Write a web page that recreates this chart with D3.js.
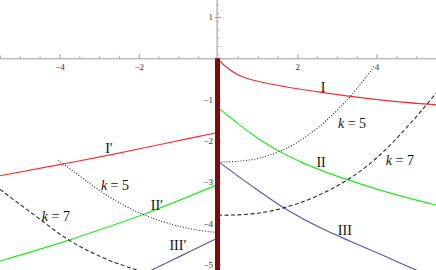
<!DOCTYPE html>
<html><head><meta charset="utf-8">
<script src="https://cdn.jsdelivr.net/npm/d3@7"></script>
<style>
html,body{margin:0;padding:0;background:#fff;}
svg{display:block;}
text{font-family:"Liberation Serif","Times New Roman",serif;}
</style></head>
<body>
<script>
// ---------- data ----------
const xTickLabels = [-4, -2, 2, 4];
const yTickLabels = [-5, -4, -3, -2, -1, 1];

// right-hand branches (x > 0)
const I_x   = [0, 0.1, 0.25, 0.5, 0.85, 1.2, 1.7, 2.5, 3.4, 4.2, 5.5];
const I_y   = [0, -0.12, -0.24, -0.4, -0.52, -0.6, -0.69, -0.81, -0.93, -1.02, -1.13];
const II_x  = [0, 0.42, 0.84, 1.51, 2.1, 2.77, 3.28, 4.2, 5.5];
const II_y  = [-1.2, -1.52, -1.83, -2.24, -2.52, -2.78, -2.95, -3.23, -3.56];
const III_x = [0, 0.84, 1.68, 2.77, 3.36, 4.2, 5.0, 5.5];
const III_y = [-2.5, -3.09, -3.64, -4.2, -4.45, -4.8, -5.14, -5.35];
const k5R_x = [0, 0.5, 1, 1.5, 2, 2.5, 3, 3.5, 3.95];
const k5R_y = [-2.52, -2.5, -2.43, -2.28, -2.04, -1.7, -1.27, -0.74, -0.18];
const k7R_x = [0, 0.5, 1, 1.5, 2, 2.5, 3, 3.5, 4, 4.5, 5, 5.5];
const k7R_y = [-3.81, -3.8, -3.76, -3.67, -3.53, -3.34, -3.1, -2.8, -2.42, -1.95, -1.42, -0.85];

// left-hand branches (x < 0)
const Ip_x   = [-5.5, -4, -2.75, -1.4, 0];
const Ip_y   = [-2.85, -2.58, -2.35, -2.08, -1.8];
const IIp_x  = [-5.5, -3.78, -2.77, -1.89, 0];
const IIp_y  = [-4.92, -4.42, -4.09, -3.79, -3.06];
const IIIp_x = [-1.7, -1.2, -0.71, 0];
const IIIp_y = [-5.15, -4.92, -4.69, -4.36];
const k5L_x  = [-4.03, -3.5, -2.75, -1.89, -1.09, -0.5, 0];
const k5L_y  = [-2.47, -2.85, -3.36, -3.79, -4.05, -4.17, -4.23];
const k7L_x  = [-5.5, -4.6, -3.78, -2.75, -2.1, -1.5];
const k7L_y  = [-3.18, -3.83, -4.4, -4.9, -5.12, -5.3];

// the wall at x = 0 (from y = 0 downward)
const wall_x = [0, 0];
const wall_y = [0, -5.2];

// curve labels (data coordinates)
const labelText = ["I", "II", "III", "I\u2032", "II\u2032", "III\u2032"];
const labelX    = [2.65, 2.6, 3.2, -2.75, -1.54, -1.01];
const labelY    = [-0.7, -2.52, -4.17, -2.18, -3.56, -4.53];
const kLabelK   = [5, 7, 5, 7];
const kLabelX   = [3.38, 4.59, -2.6, -4.09];
const kLabelY   = [-1.57, -2.47, -3.08, -3.83];

// ---------- drawing ----------
const W = 436, H = 270;
const x = d3.scaleLinear().domain([-5.5, 5.5]).range([0, W]);
const y = d3.scaleLinear().domain([1.415, -5.138]).range([0, H]);

const svg = d3.select("body").append("svg").attr("width", W).attr("height", H);

const axisColor = "#9a9a9a";
const labColor = "#333";

// minor ticks x (every 0.5)
const xMinor = d3.range(-5.5, 5.51, 0.5).filter(v => Math.abs(v) > 1e-9 && Math.abs(v % 2) > 1e-9);
svg.append("g").attr("transform", `translate(0,${y(0)})`)
  .call(d3.axisBottom(x).tickValues(xMinor).tickSize(-2.5).tickFormat(""))
  .call(g => { g.select(".domain").attr("stroke", axisColor).attr("stroke-width", 1);
               g.selectAll(".tick line").attr("stroke", "#b5b5b5"); });
// major ticks x
svg.append("g").attr("transform", `translate(0,${y(0)})`)
  .call(d3.axisBottom(x).tickValues(xTickLabels).tickSize(-4).tickPadding(5)
        .tickFormat(d => d < 0 ? "\u2212" + Math.abs(d) : String(d)))
  .call(g => { g.select(".domain").remove();
               g.selectAll(".tick line").attr("stroke", axisColor);
               g.selectAll(".tick text").attr("fill", labColor).style("font-size", "9px")
                 .style("font-family", "'Liberation Serif',serif"); });

// minor ticks y (every 0.2)
const yMinor = d3.range(-51, 15, 2).map(v => v / 10).filter(v => Math.abs(v - Math.round(v)) > 1e-9);
svg.append("g").attr("transform", `translate(${x(0) - 1},0)`)
  .call(d3.axisLeft(y).tickValues(yMinor).tickSize(-2.5).tickFormat(""))
  .call(g => { g.select(".domain").remove();
               g.selectAll(".tick line").attr("stroke", "#b5b5b5"); });
// y axis line + major ticks
svg.append("g").attr("transform", `translate(${x(0) - 1},0)`)
  .call(d3.axisLeft(y).tickValues(yTickLabels).tickSize(-4).tickPadding(4)
        .tickFormat(d => d < 0 ? "\u2212" + Math.abs(d) : String(d)))
  .call(g => { g.select(".domain").attr("stroke", axisColor).attr("d", `M0,0V${H}`);
               g.selectAll(".tick line").attr("stroke", axisColor).attr("x1", -2);
               g.selectAll(".tick text").attr("fill", labColor).style("font-size", "9px")
                 .style("font-family", "'Liberation Serif',serif"); });

// curves
const line = d3.line().x(d => x(d[0])).y(d => y(d[1])).curve(d3.curveMonotoneX);
const zip = (a, b) => a.map((v, i) => [v, b[i]]);

const curves = [
  [Ip_x, Ip_y, "#ff2a2a", null],
  [IIp_x, IIp_y, "#22ee22", null],
  [IIIp_x, IIIp_y, "#5656b0", null],
  [I_x, I_y, "#ff2a2a", null],
  [II_x, II_y, "#22ee22", null],
  [III_x, III_y, "#5656b0", null],
  [k5R_x, k5R_y, "#222", "1,1.8"],
  [k5L_x, k5L_y, "#222", "1,1.8"],
  [k7R_x, k7R_y, "#222", "4,2.5"],
  [k7L_x, k7L_y, "#222", "4,2.5"]
];
curves.forEach(([cx, cy, col, dash]) => {
  svg.append("path").datum(zip(cx, cy))
    .attr("d", line).attr("fill", "none").attr("stroke", col)
    .attr("stroke-width", dash ? 1.05 : 1.15)
    .attr("stroke-dasharray", dash);
});

// wall
svg.append("path").datum(zip(wall_x, wall_y))
  .attr("d", d3.line().x(d => x(d[0]) - 0.5).y(d => y(d[1])))
  .attr("stroke", "#7d0a0a").attr("stroke-width", 5).attr("fill", "none");

// labels
labelText.forEach((t, i) => {
  svg.append("text").attr("x", x(labelX[i])).attr("y", y(labelY[i]))
    .attr("dy", "0.35em").attr("text-anchor", "middle")
    .style("font-size", "14px").attr("fill", "#111").text(t);
});
kLabelK.forEach((k, i) => {
  const t = svg.append("text").attr("x", x(kLabelX[i])).attr("y", y(kLabelY[i]))
    .attr("dy", "0.35em").attr("text-anchor", "middle")
    .style("font-size", "14px").attr("fill", "#111");
  t.append("tspan").style("font-style", "italic").text("k");
  t.append("tspan").text(" = " + k);
});
</script>
</body></html>
